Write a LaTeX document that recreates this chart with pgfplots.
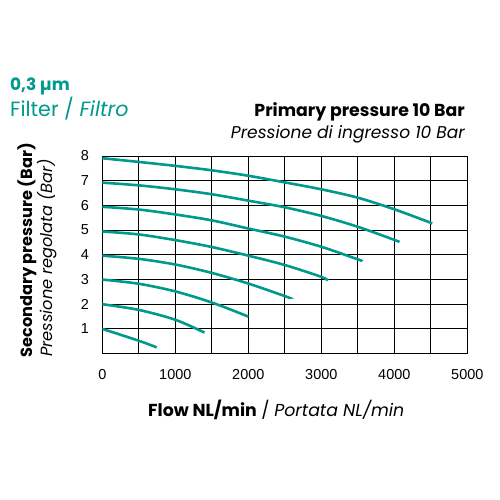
\documentclass[border=0pt]{standalone}
\usepackage{pgfplots}
\pgfplotsset{compat=1.18}
\usepackage{fontspec}
\setmainfont{Poppins}
\newfontfamily\arialfont{Liberation Sans}
\definecolor{teal1}{RGB}{0,153,141}

\begin{document}
\begin{tikzpicture}
\useasboundingbox (0,0) rectangle (500bp,-500bp);
\begin{axis}[
  at={(102.3bp,-353.3bp)}, anchor=south west,
  scale only axis, width=365bp, height=197.3bp,
  xmin=0, xmax=5000, ymin=0, ymax=8,
  xtick={0,1000,...,5000}, minor xtick={500,1500,...,4500},
  ytick={1,...,8},
  grid=both,
  major grid style={black, line width=0.9bp},
  minor grid style={black, line width=0.9bp},
  axis line style={black, line width=0.9bp},
  tick style={draw=none},
  scaled x ticks=false,
  /pgf/number format/1000 sep={},
  /pgf/number format/assume math mode=true,
  ticklabel style={font=\arialfont\fontsize{14.5}{14.5}\selectfont},
  xticklabel style={anchor=center, yshift=-21.4bp},
  yticklabel style={anchor=center, xshift=-17.3bp},
  tealcurve/.style={teal1, line width=2.6bp, smooth, no marks},
]
\addplot[tealcurve] coordinates {(0,7.91) (500,7.76) (1000,7.60) (1500,7.42) (2000,7.20) (2500,6.93) (3000,6.65) (3500,6.31) (4000,5.84) (4520,5.27)};
\addplot[tealcurve] coordinates {(0,6.92) (500,6.81) (1000,6.65) (1500,6.45) (2000,6.19) (2500,5.92) (3000,5.57) (3500,5.13) (4000,4.60) (4070,4.51)};
\addplot[tealcurve] coordinates {(0,5.94) (500,5.83) (1000,5.63) (1500,5.39) (2000,5.06) (2500,4.73) (3000,4.32) (3500,3.81) (3560,3.74)};
\addplot[tealcurve] coordinates {(0,4.94) (500,4.82) (1000,4.59) (1500,4.31) (2000,3.96) (2500,3.58) (3000,3.10) (3090,2.95)};
\addplot[tealcurve] coordinates {(0,3.96) (500,3.83) (1000,3.60) (1500,3.26) (2000,2.83) (2500,2.32) (2550,2.26)};
\addplot[tealcurve] coordinates {(0,2.99) (500,2.82) (1000,2.51) (1500,2.06) (2000,1.49)};
\addplot[tealcurve] coordinates {(0,1.99) (500,1.76) (1000,1.36) (1400,0.84)};
\addplot[tealcurve] coordinates {(0,0.99) (500,0.51) (745,0.24)};
\end{axis}
\node[anchor=base west, inner sep=0, text=teal1, font=\bfseries\fontsize{17}{17}\selectfont] at (10bp,-90.7bp) {0,3 µm};
\node[anchor=base west, inner sep=0, text=teal1, font=\fontsize{20.7}{20.7}\selectfont] at (10bp,-116.7bp) {Filter / \textit{Filtro}};
\node[anchor=base east, inner sep=0, font=\bfseries\fontsize{17.4}{17.4}\selectfont] at (465bp,-116.7bp) {Primary pressure 10 Bar};
\node[anchor=base east, inner sep=0, font=\itshape\fontsize{17.1}{17.1}\selectfont] at (465bp,-138.3bp) {Pressione di ingresso 10 Bar};
\node[anchor=base west, inner sep=0, rotate=90, font=\bfseries\fontsize{16.2}{16.2}\selectfont] at (32.5bp,-357.5bp) {Secondary pressure (Bar)};
\node[anchor=base west, inner sep=0, rotate=90, font=\itshape\fontsize{16.3}{16.3}\selectfont] at (52.5bp,-357bp) {Pressione regolata (Bar)};
\node[anchor=base west, inner sep=0, font=\fontsize{17.4}{17.4}\selectfont] at (148bp,-416.5bp) {\textbf{Flow NL/min} / \textit{Portata NL/min}};
\end{tikzpicture}
\end{document}
